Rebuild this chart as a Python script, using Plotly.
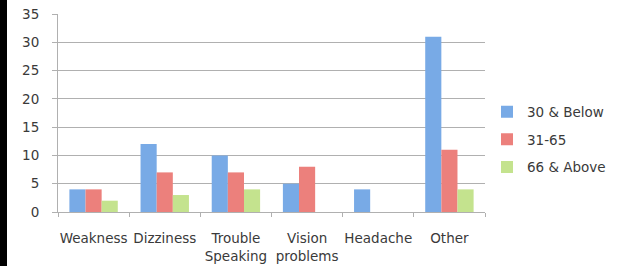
import plotly.graph_objects as go

categories = ["Weakness", "Dizziness", "Trouble<br>Speaking", "Vision<br>problems", "Headache", "Other"]
series_names = ["30 & Below", "31-65", "66 & Above"]
below30 = [4, 12, 10, 5, 4, 31]
mid31_65 = [4, 7, 7, 8, 0, 11]
above66 = [2, 3, 4, 0, 0, 4]
y_ticks = [0, 5, 10, 15, 20, 25, 30, 35]

colors = ["#78aae6", "#ec807c", "#c4e38e"]

W, H = 623, 266
L, R, T, B = 58, 138, 14, 54
pw = W - L - R
ph = H - T - B

fig = go.Figure()
for i, (name, vals) in enumerate(zip(series_names, [below30, mid31_65, above66])):
    fig.add_trace(go.Bar(
        x=categories, y=vals, name=name,
        marker=dict(color=colors[i], line=dict(width=0)),
        legendgroup=name,
    ))

fig.update_layout(
    width=W, height=H,
    margin=dict(l=L, r=R, t=T, b=B, autoexpand=False),
    paper_bgcolor="white", plot_bgcolor="white",
    barmode="group", bargap=0.32, bargroupgap=0,
    font=dict(family="DejaVu Sans", size=13.5, color="#3a3a3a"),
    showlegend=True,
    legend=dict(x=(487 - L) / pw, xanchor="left", y=(212 - 139.5) / ph, yanchor="middle",
                traceorder="grouped", tracegroupgap=7, font=dict(size=13.5),
                itemwidth=30, bgcolor="rgba(0,0,0,0)"),
    xaxis=dict(showline=True, linecolor="#b0b0b0", linewidth=1, ticks="outside",
               tickson="boundaries", ticklen=4, tickcolor="#b0b0b0", showgrid=False,
               tickfont=dict(size=13.5), tickangle=0, automargin=False,
               ticklabelstandoff=14),
    yaxis=dict(range=[0, 35], tickvals=y_ticks, showline=True, linecolor="#b0b0b0",
               linewidth=1, ticks="outside", ticklen=5, tickcolor="#b0b0b0",
               showgrid=True, gridcolor="#b0b0b0", gridwidth=1, zeroline=False,
               tickfont=dict(size=13.5), ticklabelstandoff=10, automargin=False),
    shapes=[dict(type="rect", xref="paper", yref="paper",
                 x0=-L / pw, x1=(7 - L) / pw, y0=-B / ph, y1=1 + T / ph,
                 fillcolor="black", line=dict(width=0), layer="above")],
)

fig.write_html("out.html", config={"displayModeBar": False},
               post_script="document.body.style.margin='0';")
